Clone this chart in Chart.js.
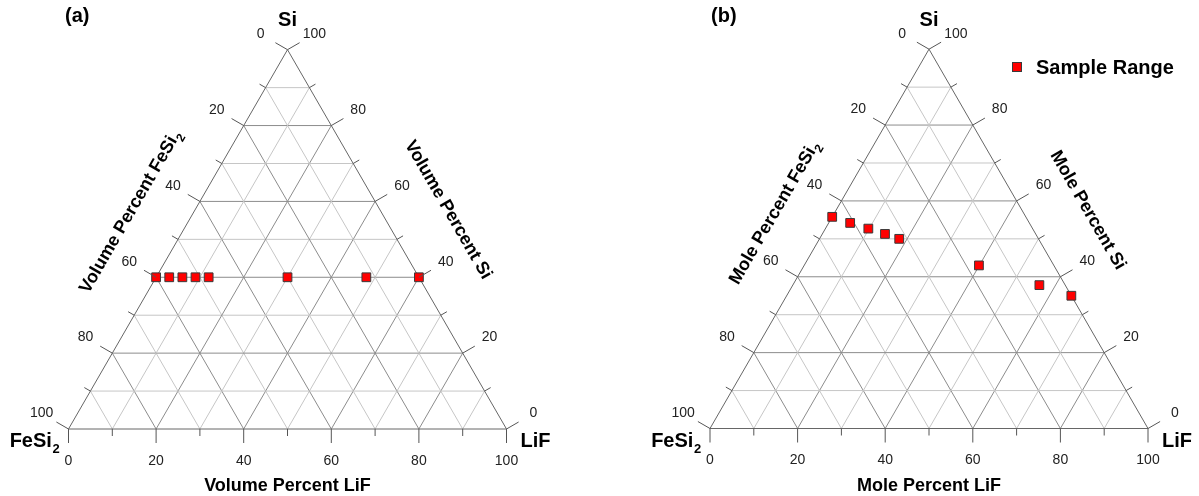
<!DOCTYPE html>
<html lang="en">
<head>
<meta charset="UTF-8">
<title>Si - FeSi2 - LiF ternary compositions</title>
<script src="https://cdn.jsdelivr.net/npm/chart.js"></script>
<style>
  body { margin: 0; background: #ffffff; }
  .wrap { position: relative; width: 1199px; height: 496px; }
  #chartA { position: absolute; left: 0; top: 0; }
  #chartB { position: absolute; left: 600px; top: 0; }
</style>
</head>
<body>
<div class="wrap">
  <canvas id="chartA" width="600" height="496"></canvas>
  <canvas id="chartB" width="599" height="496"></canvas>
</div>
<script>
// sample compositions (percent Si and percent LiF, FeSi2 is the rest)
const volSi   = [40, 40, 40, 40, 40, 40, 40, 40];
const volLiF  = [0, 3, 6, 9, 12, 30, 48, 60];
const moleSi  = [55.8, 54.2, 52.7, 51.3, 50.0, 43.0, 37.8, 35.0];
const moleLiF = [0, 4.9, 9.8, 14.3, 18.2, 39.9, 56.3, 65.0];

const gridSteps  = [10, 20, 30, 40, 50, 60, 70, 80, 90];
const tickSteps  = [0, 10, 20, 30, 40, 50, 60, 70, 80, 90, 100];
const labelSteps = [0, 20, 40, 60, 80, 100];

const FONT = 'Arial, "Liberation Sans", Helvetica, sans-serif';
const C30 = Math.sqrt(3) / 2;

// ternary -> cartesian, triangle with base 0..100
function proj(lif, si) {
  return { x: lif + si / 2, y: si * C30 };
}

function gridDatasets() {
  const sets = [];
  gridSteps.forEach(k => {
    const color = k % 20 === 0 ? '#8c8c8c' : '#c6c6c6';
    const lines = [
      [proj(0, k), proj(100 - k, k)],       // constant Si
      [proj(k, 0), proj(k, 100 - k)],       // constant LiF
      [proj(100 - k, 0), proj(0, 100 - k)]  // constant FeSi2
    ];
    lines.forEach(pts => sets.push({
      data: pts, showLine: true, borderColor: color, borderWidth: 1,
      pointRadius: 0, order: 3, clip: false
    }));
  });
  sets.push({
    data: [proj(0, 0), proj(100, 0), proj(0, 100), proj(0, 0)],
    showLine: true, borderColor: '#666666', borderWidth: 1,
    pointRadius: 0, order: 2, clip: false
  });
  return sets;
}

// text with a subscript part, centred on x
function subText(ctx, main, sub, x, y, size) {
  const subSize = Math.round(size * 0.65);
  ctx.font = 'bold ' + size + 'px ' + FONT;
  const w1 = ctx.measureText(main).width;
  ctx.font = 'bold ' + subSize + 'px ' + FONT;
  const w2 = sub ? ctx.measureText(sub).width : 0;
  const x0 = x - (w1 + w2) / 2;
  ctx.textAlign = 'left';
  ctx.font = 'bold ' + size + 'px ' + FONT;
  ctx.fillText(main, x0, y);
  if (sub) {
    ctx.font = 'bold ' + subSize + 'px ' + FONT;
    ctx.fillText(sub, x0 + w1 + 0.5, y + size * 0.3);
  }
}

const ternaryAxes = {
  id: 'ternaryAxes',
  afterDraw(chart, args, o) {
    const ctx = chart.ctx;
    const sx = chart.scales.x, sy = chart.scales.y;
    const px = (lif, si) => {
      const p = proj(lif, si);
      return [sx.getPixelForValue(p.x), sy.getPixelForValue(p.y)];
    };
    const dirs = { bottom: [0, 1], left: [-C30, -0.5], right: [C30, -0.5] };
    const edgePoint = {
      bottom: v => px(v, 0),
      left: v => px(0, 100 - v),
      right: v => px(100 - v, v)
    };
    ctx.save();
    // ticks
    ctx.strokeStyle = '#555555';
    ctx.lineWidth = 1;
    tickSteps.forEach(v => {
      const len = v % 20 === 0 ? 14 : 7;
      Object.keys(dirs).forEach(side => {
        const [x, y] = edgePoint[side](v);
        const d = dirs[side];
        ctx.beginPath();
        ctx.moveTo(x, y);
        ctx.lineTo(x + d[0] * len, y + d[1] * len);
        ctx.stroke();
      });
    });
    // tick labels
    ctx.fillStyle = '#222222';
    ctx.font = '14px ' + FONT;
    ctx.textAlign = 'center';
    ctx.textBaseline = 'middle';
    labelSteps.forEach(v => {
      Object.keys(dirs).forEach(side => {
        const [x, y] = edgePoint[side](v);
        const d = dirs[side];
        const dist = side === 'bottom' ? 32 : 31;
        ctx.fillText(String(v), x + d[0] * dist, y + d[1] * dist);
      });
    });

    ctx.fillStyle = '#000000';
    ctx.textBaseline = 'alphabetic';
    // axis titles
    const [bx, by] = px(50, 0);
    subText(ctx, o.title + ' LiF', '', bx, by + 62, 18);
    const [lx, ly] = px(0, 50);
    ctx.save();
    ctx.translate(lx - C30 * o.leftDist, ly - 0.5 * o.leftDist);
    ctx.rotate(-Math.PI / 3);
    subText(ctx, o.title + ' FeSi', '2', 0, 6, 18);
    ctx.restore();
    const [rx, ry] = px(50, 50);
    ctx.save();
    ctx.translate(rx + C30 * o.rightDist, ry - 0.5 * o.rightDist);
    ctx.rotate(Math.PI / 3);
    subText(ctx, o.title + ' Si', '', 0, 6, 18);
    ctx.restore();

    // vertex labels
    const [fx, fy] = px(0, 0);
    ctx.font = 'bold 20px ' + FONT;
    const wFe = ctx.measureText('FeSi').width;
    subText(ctx, 'FeSi', '2', fx - 9 - (wFe + 8) / 2, fy + 18, 20);
    const [ex, ey] = px(100, 0);
    ctx.font = 'bold 20px ' + FONT;
    ctx.textAlign = 'left';
    ctx.fillText('LiF', ex + 14, ey + 18);
    const [ax] = px(0, 100);
    ctx.textAlign = 'center';
    ctx.fillText('Si', ax, 26);

    // panel letter
    ctx.textAlign = 'left';
    ctx.fillText(o.letter, o.letterX, 22);

    // legend
    if (o.legend) {
      const ds = chart.data.datasets[0];
      ctx.fillStyle = ds.backgroundColor;
      ctx.strokeStyle = ds.borderColor;
      ctx.fillRect(o.legendX - 4.5, 62.5, 9, 9);
      ctx.strokeRect(o.legendX - 4.5, 62.5, 9, 9);
      ctx.fillStyle = '#000000';
      ctx.font = 'bold 20px ' + FONT;
      ctx.fillText(o.legend, o.legendX + 19, 74);
    }
    ctx.restore();
  }
};

function makeChart(id, siVals, lifVals, pad, opts) {
  const samples = {
    label: 'Sample Range',
    data: lifVals.map((l, i) => proj(l, siVals[i])),
    pointStyle: 'rect', pointRadius: 6.2,
    backgroundColor: '#ff0000', borderColor: '#3a3a3a', borderWidth: 1,
    showLine: false, order: 0, clip: false
  };
  return new Chart(document.getElementById(id), {
    type: 'scatter',
    data: { datasets: [samples].concat(gridDatasets()) },
    options: {
      responsive: false,
      animation: false,
      devicePixelRatio: 1,
      layout: { padding: pad },
      scales: {
        x: { type: 'linear', min: 0, max: 100, display: false },
        y: { type: 'linear', min: 0, max: 50 * Math.sqrt(3), display: false }
      },
      plugins: {
        legend: { display: false },
        tooltip: { enabled: false },
        ternaryAxes: opts
      }
    },
    plugins: [ternaryAxes]
  });
}

makeChart('chartA', volSi, volLiF,
  { left: 68.5, right: 93.5, top: 49.7, bottom: 67 },
  { title: 'Volume Percent', letter: '(a)', letterX: 65, leftDist: 56, rightDist: 60 });

makeChart('chartB', moleSi, moleLiF,
  { left: 110, right: 51, top: 49.2, bottom: 67.5 },
  { title: 'Mole Percent', letter: '(b)', letterX: 111, leftDist: 53, rightDist: 58,
    legend: 'Sample Range', legendX: 417 });
</script>
</body>
</html>
